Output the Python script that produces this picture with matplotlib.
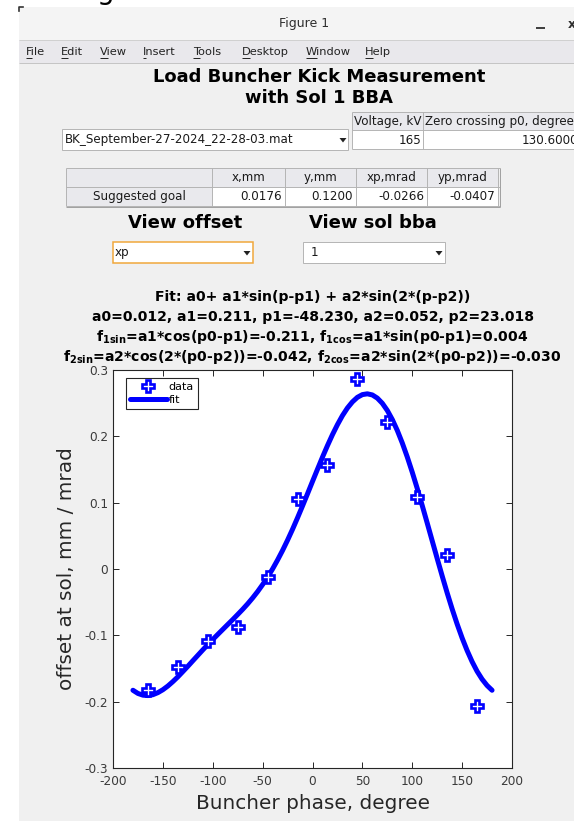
import matplotlib
matplotlib.use('Agg')
import matplotlib.pyplot as plt
from matplotlib.patches import Rectangle, Polygon

plt.rcParams['font.family'] = ['DejaVu Sans']
plt.rcParams['axes.unicode_minus'] = False
plt.rcParams['mathtext.default'] = 'bf'

# ---------------- data ----------------
phase_deg = [-165, -135, -105, -75, -45, -15, 15, 45, 75, 105, 135, 165]
offset_data = [-0.183, -0.148, -0.108, -0.088, -0.012, 0.105, 0.157, 0.287,
               0.222, 0.108, 0.021, -0.207]

fit_phase_deg = [-180, -175, -170, -165, -160, -155, -150, -145, -140, -135,
                 -130, -125, -120, -115, -110, -105, -100, -95, -90, -85,
                 -80, -75, -70, -65, -60, -55, -50, -45, -40, -35, -30, -25,
                 -20, -15, -10, -5, 0, 5, 10, 15, 20, 25, 30, 35, 40, 45, 50,
                 55, 60, 65, 70, 75, 80, 85, 90, 95, 100, 105, 110, 115, 120,
                 125, 130, 135, 140, 145, 150, 155, 160, 165, 170, 175, 180]
fit_offset = [-0.1828, -0.1876, -0.1902, -0.1908, -0.1895, -0.1864, -0.1820,
              -0.1764, -0.1698, -0.1626, -0.1547, -0.1467, -0.1384, -0.1302,
              -0.1220, -0.1140, -0.1063, -0.0987, -0.0912, -0.0837, -0.0763,
              -0.0686, -0.0608, -0.0525, -0.0436, -0.0340, -0.0235, -0.0122,
              0.0001, 0.0136, 0.0280, 0.0435, 0.0599, 0.0772, 0.0951, 0.1134,
              0.1320, 0.1504, 0.1686, 0.1860, 0.2025, 0.2176, 0.2312, 0.2427,
              0.2519, 0.2588, 0.2629, 0.2641, 0.2624, 0.2576, 0.2498, 0.2390,
              0.2253, 0.2089, 0.1900, 0.1689, 0.1459, 0.1214, 0.0957, 0.0693,
              0.0425, 0.0158, -0.0105, -0.0360, -0.0603, -0.0830, -0.1040,
              -0.1229, -0.1397, -0.1542, -0.1661, -0.1756, -0.1828]

x_ticks = [-200, -150, -100, -50, 0, 50, 100, 150, 200]
y_ticks = [-0.3, -0.2, -0.1, 0, 0.1, 0.2, 0.3]
y_tick_labels = ['-0.3', '-0.2', '-0.1', '0', '0.1', '0.2', '0.3']

menu_items = ['File', 'Edit', 'View', 'Insert', 'Tools', 'Desktop', 'Window', 'Help']
info_columns = ['Voltage, kV', 'Zero crossing p0, degree']
info_values = ['165', '130.6000']
file_name = 'BK_September-27-2024_22-28-03.mat'
goal_columns = ['x,mm', 'y,mm', 'xp,mrad', 'yp,mrad']
goal_row_label = 'Suggested goal'
goal_values = ['0.0176', '0.1200', '-0.0266', '-0.0407']
offset_choice = 'xp'
sol_choice = '1'

heading_lines = ['Load Buncher Kick Measurement', 'with Sol 1 BBA']
fit_title_lines = [
    'Fit: a0+ a1*sin(p-p1) + a2*sin(2*(p-p2))',
    'a0=0.012, a1=0.211, p1=-48.230, a2=0.052, p2=23.018',
    'f$_{1sin}$=a1*cos(p0-p1)=-0.211, f$_{1cos}$=a1*sin(p0-p1)=0.004',
    'f$_{2sin}$=a2*cos(2*(p0-p2))=-0.042, f$_{2cos}$=a2*sin(2*(p0-p2))=-0.030',
]

# ---------------- figure / window chrome ----------------
W, H = 574, 821
fig = plt.figure(figsize=(W / 100, H / 100), dpi=100)
fig.patch.set_facecolor('#f0f0f0')
ui = fig.add_axes([0, 0, 1, 1], zorder=0)
ui.set_xlim(0, W)
ui.set_ylim(H, 0)
ui.axis('off')


def rect(x0, y0, x1, y1, fc, ec='none', lw=0.7, z=1):
    ui.add_patch(Rectangle((x0, y0), x1 - x0, y1 - y0, facecolor=fc,
                           edgecolor=ec, linewidth=lw, zorder=z))


def hline(x0, x1, y, c, lw=0.7, z=2):
    ui.plot([x0, x1], [y, y], color=c, lw=lw, zorder=z, solid_capstyle='butt')


def vline(x, y0, y1, c, lw=0.7, z=2):
    ui.plot([x, x], [y0, y1], color=c, lw=lw, zorder=z, solid_capstyle='butt')


def arrow(cx, cy):
    ui.add_patch(Polygon([[cx - 3.5, cy - 2], [cx + 3.5, cy - 2], [cx, cy + 2.5]],
                         closed=True, facecolor='#222222', edgecolor='none', zorder=4))


# outside window
rect(0, 0, W, 7, 'white')
rect(0, 0, 19, H, 'white')
ui.text(97, -1, 'g', fontsize=20, ha='left', va='baseline', color='black')
ui.plot([19, 19, 23], [11, 7, 7], color='#333333', lw=1.2, zorder=3)

# title bar + menu bar
rect(19, 7, W, 40, '#f4f4f4')
rect(19, 40, W, 63, '#e9e8ec')
hline(19, W, 40, '#d0d0d0')
hline(19, W, 63, '#c4c4c4')
ui.text(304, 24, 'Figure 1', fontsize=9, ha='center', va='center', color='#2e2e2e')
hline(536, 545, 28, '#2e2e2e', lw=1.3)
ui.text(568, 24, 'x', fontsize=9, fontweight='bold', ha='left', va='center', color='#2e2e2e')

menu_x = [26, 61, 100, 143, 193, 242, 306, 365]
menu_ul = [6, 6.5, 7.5, 3, 6.5, 8, 10.5, 8]
for label, mx, ul in zip(menu_items, menu_x, menu_ul):
    ui.text(mx, 52, label, fontsize=8.2, ha='left', va='center', color='#222222')
    hline(mx, mx + ul, 58, '#222222', lw=0.7)

# heading
ui.text(319, 82, heading_lines[0], fontsize=13, fontweight='bold',
        ha='center', va='baseline', color='black')
ui.text(319, 103, heading_lines[1], fontsize=13, fontweight='bold',
        ha='center', va='baseline', color='black')

# file dropdown
rect(62, 129, 348, 150, 'white', ec='#b4b4b4')
ui.text(65, 139.5, file_name, fontsize=8.6, ha='left', va='center', color='#1a1a1a')
arrow(343, 140)

# info table
hdr_c = '#e9e9ed'
grid_c = '#b4b4b4'
rect(352, 112, 600, 130, hdr_c)
rect(352, 130, 600, 149, 'white')
for yy in (112, 130, 149):
    hline(352, W, yy, grid_c)
vline(352, 112, 149, grid_c)
vline(423, 112, 149, grid_c)
ui.text(387.5, 121, info_columns[0], fontsize=8.6, ha='center', va='center', color='#1a1a1a')
ui.text(425, 121, info_columns[1], fontsize=8.6, ha='left', va='center', color='#1a1a1a')
ui.text(421, 140, info_values[0], fontsize=8.6, ha='right', va='center', color='#1a1a1a')
ui.text(578, 140, info_values[1], fontsize=8.6, ha='right', va='center', color='#1a1a1a')

# goal table
cols = [66, 212, 285, 356, 427, 498]
rows = [168, 187, 206]
rect(cols[0], rows[0], cols[-1], rows[1], hdr_c)
rect(cols[0], rows[1], cols[1], rows[2], hdr_c)
rect(cols[1], rows[1], cols[-1], rows[2], 'white')
for yy in rows:
    hline(cols[0], cols[-1] + 2, yy, grid_c)
for xx in cols:
    vline(xx, rows[0], rows[2], grid_c)
vline(cols[-1] + 2, rows[0], rows[2] + 1, '#a0a0a0')
hline(cols[0], cols[-1] + 2, rows[2] + 1, '#a0a0a0')
for i, name in enumerate(goal_columns):
    ui.text((cols[i + 1] + cols[i + 2]) / 2, (rows[0] + rows[1]) / 2, name,
            fontsize=8.6, ha='center', va='center', color='#1a1a1a')
    ui.text(cols[i + 2] - 3, (rows[1] + rows[2]) / 2, goal_values[i],
            fontsize=8.6, ha='right', va='center', color='#1a1a1a')
ui.text((cols[0] + cols[1]) / 2, (rows[1] + rows[2]) / 2, goal_row_label,
        fontsize=8.6, ha='center', va='center', color='#1a1a1a')

# view selectors
ui.text(185, 223, 'View offset', fontsize=13, fontweight='bold', ha='center', va='center', color='black')
ui.text(373, 223, 'View sol bba', fontsize=13, fontweight='bold', ha='center', va='center', color='black')
rect(113, 242, 253, 263, 'white', ec='#f0a83c', lw=1.1)
ui.text(115, 252.5, offset_choice, fontsize=8.6, ha='left', va='center', color='#1a1a1a')
arrow(247, 253)
rect(303, 242, 445, 263, 'white', ec='#b4b4b4')
ui.text(311, 252.5, sol_choice, fontsize=8.6, ha='left', va='center', color='#1a1a1a')
arrow(439, 253)

# fit title lines
for yb, line in zip([301, 321, 341, 361], fit_title_lines):
    ui.text(312.5, yb, line, fontsize=10.1, fontweight='bold', ha='center',
            va='baseline', color='black')

# ---------------- plot axes ----------------
ax_l, ax_r, ax_t, ax_b = 113, 512, 370, 768
ax = fig.add_axes([ax_l / W, (H - ax_b) / H, (ax_r - ax_l) / W, (ax_b - ax_t) / H], zorder=2)
ax.set_facecolor('white')
ax.plot(fit_phase_deg, fit_offset, color='blue', lw=3.6, label='fit',
        solid_capstyle='round', solid_joinstyle='round', zorder=2)
ax.plot(phase_deg, offset_data, linestyle='none', marker='P', ms=8.2,
        mfc='white', mec='blue', mew=1.9, label='data', zorder=3)

ax.set_xlim(-200, 200)
ax.set_ylim(-0.3, 0.3)
ax.set_xticks(x_ticks)
ax.set_xticklabels([str(v) for v in x_ticks])
ax.set_yticks(y_ticks)
ax.set_yticklabels(y_tick_labels)
ax.tick_params(direction='in', length=4, width=0.7, top=True, right=True,
               labelsize=8.7, colors='#262626', labelcolor='#3a3a3a')
ax.tick_params(axis='x', pad=5)
ax.tick_params(axis='y', pad=3.5)
for sp in ax.spines.values():
    sp.set_color('#262626')
    sp.set_linewidth(0.8)
ax.set_xlabel('Buncher phase, degree', fontsize=14.4, color='#262626', labelpad=4)
ax.set_ylabel('offset at sol, mm / mrad', fontsize=14.4, color='#262626', labelpad=6)

handles, labels = ax.get_legend_handles_labels()
leg = ax.legend(handles[::-1], labels[::-1], loc='upper left',
                bbox_to_anchor=(13 / 399, 1 - 8 / 398), fontsize=8,
                frameon=True, fancybox=False, edgecolor='#262626', framealpha=1,
                borderpad=0.35, handlelength=3.3, handletextpad=0.2,
                labelspacing=0.3, borderaxespad=0)
leg.get_frame().set_linewidth(0.8)

fig.savefig('out.png', dpi=100, facecolor=fig.get_facecolor())
